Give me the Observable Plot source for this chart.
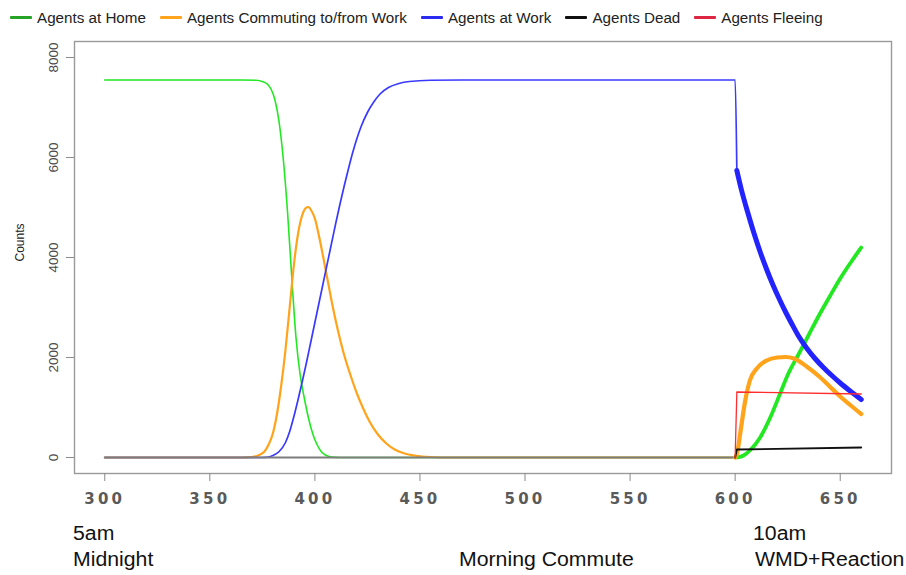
<!DOCTYPE html>
<html><head><meta charset="utf-8">
<script src="https://cdn.jsdelivr.net/npm/d3@7"></script>
<script src="https://cdn.jsdelivr.net/npm/@observablehq/plot@0.6"></script>
<style>
body{margin:0;background:#fff;font-family:"Liberation Sans",Arial,sans-serif;}
#wrap{position:relative;width:906px;height:575px;overflow:hidden;}
#legend{position:absolute;left:10px;top:7px;height:20px;display:flex;align-items:center;font-size:15.2px;color:#222;white-space:nowrap}
.item{display:flex;align-items:center;margin-right:14px}
.sw{width:22px;height:3px;margin-right:5px;border-radius:1px}
#chart{position:absolute;left:0;top:30px}
.cap{position:absolute;font-size:19.5px;line-height:19.5px;color:#111;white-space:nowrap;transform:scaleX(1.09);transform-origin:left center}
#chart g[aria-label="x-axis tick label"] text{letter-spacing:3.2px}
</style></head><body>
<div id="wrap"><div id="legend"></div><div id="chart"></div><div id="caps"></div></div>
<script>
// ---- data (minute of simulation, agent counts) ----
const seriesNames = ["Agents at Home","Agents Commuting to/from Work","Agents at Work","Agents Dead","Agents Fleeing"];
const legendColors = ["#27a427","#ffa41c","#2b2bf2","#111111","#dc2642"];
const lineColors = ["#22e822","#ffa31a","#2323ff","#111111","#ff2d2d"];

const homeMorning = [[300,7550],[365,7550],[372,7545],[375,7520],[377,7480],[379,7380],[381,7150],[383,6700],[385,5950],[387,4900],[389,3600],[391,2400],[393,1650],[395,1180],[397,780],[399,470],[401,260],[403,120],[405,50],[408,10],[412,0],[600,0],[601,0]];
const homeAfter = [[601,0],[604,40],[607,140],[611.9,400],[616.7,800],[621.4,1280],[625,1650],[630,2050],[635,2450],[640,2850],[645,3220],[650,3580],[655,3900],[660,4200]];

const commuteMorning = [[300,0],[365,0],[370,10],[373,40],[376,120],[378,260],[380,480],[382,880],[384,1450],[386,2150],[388,3000],[390,3850],[392,4480],[394,4850],[396,5000],[397,5010],[398,4960],[400,4780],[402,4420],[404,4000],[406,3560],[408,3120],[410,2720],[412,2360],[414,2040],[417,1640],[420,1280],[423,980],[426,720],[430,460],[434,280],[438,160],[442,90],[448,35],[455,10],[465,0],[600,0]];
const commuteAfter = [[600,0],[600.8,60],[602.4,480],[604.8,1140],[607,1540],[610.3,1780],[615,1940],[620,2000],[624,2010],[628,1980],[634,1820],[640,1620],[645,1420],[650,1220],[655,1040],[660,870]];

const workMorning = [[300,0],[375,0],[378,10],[380,40],[383,120],[386,300],[388,520],[390,820],[392,1160],[394,1520],[396,1900],[398,2300],[400,2700],[402,3100],[404,3500],[406,3900],[408,4300],[410,4700],[412,5080],[414,5440],[416,5780],[418,6100],[420,6380],[422,6620],[425,6900],[428,7110],[431,7270],[435,7400],[440,7480],[445,7520],[455,7545],[470,7550],[600,7550],[600.8,5740]];
const workAfter = [[600.8,5740],[603,5350],[606,4900],[609,4480],[612,4100],[615,3760],[618,3450],[621,3170],[624,2910],[627,2670],[630,2440],[634,2190],[638,1980],[642,1800],[646,1640],[650,1490],[655,1320],[660,1160]];

const dead = [[300,0],[600,0],[600.8,160],[660,200]];
const fleeing = [[600,0],[600.8,1310],[660,1270]];

const xTicks = [300,350,400,450,500,550,600,650];
const yTicks = [0,2000,4000,6000,8000];
const captions = [
  {text:"5am", left:73, top:524},
  {text:"Midnight", left:73, top:550},
  {text:"Morning Commute", left:459, top:550},
  {text:"10am", left:753, top:524},
  {text:"WMD+Reaction", left:755, top:550}
];

// ---- legend ----
const leg = document.getElementById("legend");
seriesNames.forEach((n,i)=>{
  const it = document.createElement("div"); it.className="item";
  const sw = document.createElement("div"); sw.className="sw"; sw.style.background=legendColors[i];
  const tx = document.createElement("span"); tx.textContent=n;
  it.appendChild(sw); it.appendChild(tx); leg.appendChild(it);
});

// ---- chart ----
const X = d=>d[0], Y = d=>d[1];
const ln = (data, stroke, strokeWidth, curve="monotone-x") =>
  Plot.line(data, {x:X, y:Y, stroke, strokeWidth, curve, strokeLinejoin:"round"});

const chart = Plot.plot({
  width: 906, height: 488,
  marginTop: 11, marginBottom: 45, marginLeft: 74, marginRight: 15,
  style: {fontFamily: "Liberation Sans, Arial, sans-serif", background: "#fff"},
  x: {domain: [285.6, 674.4]},
  y: {domain: [-320, 8320]},
  marks: [
    Plot.frame({stroke: "#9a9a9a", strokeWidth: 1.4}),
    Plot.axisX({ticks: xTicks, tickSize: 8, tickPadding: 12, stroke: "#8a8a8a", fill: "#5a5a5a",
      fontSize: 15, fontWeight: "bold", fontFamily: "DejaVu Sans", tickFormat: d=>String(d), label: null}),
    Plot.axisY({ticks: yTicks, tickSize: 8, tickPadding: 9, tickRotate: -90, stroke: "#8a8a8a", fill: "#4a4a4a",
      fontSize: 13.5, tickFormat: d=>String(d), label: null}),
    Plot.text(["Counts"], {frameAnchor: "left", dx: -54, dy: 4, rotate: -90, fontSize: 12, fill: "#222"}),
    ln(homeMorning, lineColors[0], 1.6),
    ln(commuteMorning, lineColors[1], 2.2),
    ln(workMorning, "#3a3aff", 1.7),
    ln(dead.filter(d=>d[0]<=600), "#7d7d7d", 1.8, "linear"),
    ln(homeAfter, lineColors[0], 3.8),
    ln(commuteAfter, lineColors[1], 4.2),
    ln(workAfter, lineColors[2], 5),
    ln(dead.filter(d=>d[0]>=600), lineColors[3], 1.8, "linear"),
    ln(fleeing, lineColors[4], 1.3, "linear")
  ]
});
document.getElementById("chart").appendChild(chart);

// ---- bottom annotations ----
const caps = document.getElementById("caps");
captions.forEach(c=>{
  const d = document.createElement("div"); d.className="cap";
  d.textContent=c.text; d.style.left=c.left+"px"; d.style.top=c.top+"px";
  caps.appendChild(d);
});
</script>
</body></html>
